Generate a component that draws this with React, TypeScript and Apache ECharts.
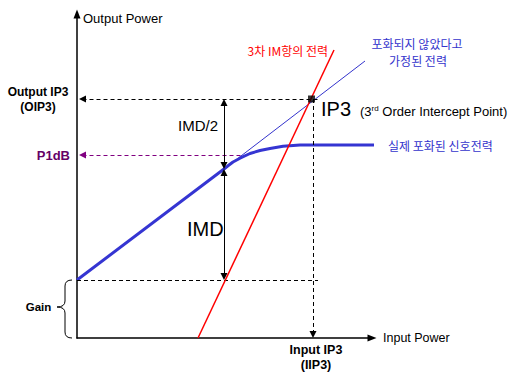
import React, { useEffect, useRef } from "react";
import * as echarts from "echarts";

// Actual (saturating) output power curve: input power vs output power (arbitrary dB-like units)
const actualInput = [0, 14.7, 15.1, 15.6, 16.3, 17.3, 18.3, 19.3, 20.6, 22.3, 30.3];
const actualOutput = [5.8, 16.9, 17.22, 17.6, 17.98, 18.45, 18.75, 18.95, 19.17, 19.3, 19.3];

// Ideal (non-saturated) linear extension
const linearInput = [14.7, 28.8];
const linearOutput = [16.9, 27.7];

// 3rd-order IM product power
const im3Input = [12.1, 25.7];
const im3Output = [0, 28.8];

// Key levels
const ip3Point = [23.45, 23.9]; // [IIP3, OIP3]
const iip3Line = 23.6;
const p1dBLevel = 18.3;
const p1dBInput = 16.6;
const gainLevel = 5.8;
const imdInput = 14.7;
const imdMidLevel = 16.9;
const dashEnd = 24.1;

const LATIN = "'Liberation Sans', Arial, sans-serif";
const KR = "'Noto Sans CJK KR', 'Liberation Sans', sans-serif";

export default function App() {
  const ref = useRef<HTMLDivElement>(null);
  useEffect(() => {
    if (!ref.current) return;
    echarts.graphic.registerShape(
      "brace",
      echarts.graphic.extendPath(
        "M15,0 Q8,0 8,6 L8,21 Q8,27 0,27 Q8,27 8,33 L8,52 Q8,58 15,58",
        {}
      )
    );
    const chart = echarts.init(ref.current, null, { renderer: "svg" });
    const zip = (a: number[], b: number[]) => a.map((v, i) => [v, b[i]]);
    const arrowOff = 0.35;
    const txt = (
      text: string,
      x: number,
      y: number,
      opts: any = {}
    ) => ({
      type: "text",
      x,
      y,
      style: {
        text,
        fill: opts.fill || "#000",
        font: `${opts.weight || "normal"} ${opts.size || 12}px ${opts.family || LATIN}`,
        align: opts.align || "left",
        verticalAlign: "middle",
        ...(opts.rich ? { rich: opts.rich } : {}),
      },
    });
    const option: any = {
      animation: false,
      grid: { left: 77, top: 14, width: 295, height: 324 },
      xAxis: {
        type: "value",
        min: 0,
        max: 29.5,
        axisLine: {
          onZero: false,
          symbol: ["none", "triangle"],
          symbolSize: [7, 9],
          lineStyle: { color: "#000", width: 1.5 },
        },
        axisTick: { show: false },
        axisLabel: { show: false },
        splitLine: { show: false },
      },
      yAxis: {
        type: "value",
        min: 0,
        max: 32.4,
        axisLine: {
          onZero: false,
          symbol: ["none", "triangle"],
          symbolSize: [7, 9],
          lineStyle: { color: "#000", width: 1.5 },
        },
        axisTick: { show: false },
        axisLabel: { show: false },
        splitLine: { show: false },
      },
      series: [
        {
          type: "line",
          name: "dashed-black",
          data: [],
          silent: true,
          markLine: {
            silent: true,
            animation: false,
            label: { show: false },
            lineStyle: { color: "#000", type: [4, 3], width: 1 },
            symbolSize: [7, 7],
            data: [
              [
                { coord: [0.2 + arrowOff, ip3Point[1]], symbol: "triangle" },
                { coord: [dashEnd, ip3Point[1]], symbol: "none" },
              ],
              [
                { coord: [iip3Line, ip3Point[1]], symbol: "none" },
                { coord: [iip3Line, arrowOff], symbol: "triangle" },
              ],
              [
                { coord: [0, gainLevel], symbol: "none" },
                { coord: [dashEnd, gainLevel], symbol: "none" },
              ],
            ],
          },
        },
        {
          type: "line",
          name: "dashed-purple",
          data: [],
          silent: true,
          markLine: {
            silent: true,
            animation: false,
            label: { show: false },
            lineStyle: { color: "#800080", type: [4, 3], width: 1 },
            symbolSize: [7, 7],
            data: [
              [
                { coord: [0.2 + arrowOff, p1dBLevel], symbol: "triangle" },
                { coord: [p1dBInput, p1dBLevel], symbol: "none" },
              ],
            ],
          },
        },
        {
          type: "line",
          name: "imd",
          data: [],
          silent: true,
          markLine: {
            silent: true,
            animation: false,
            label: { show: false },
            lineStyle: { color: "#000", type: "solid", width: 1 },
            symbol: ["triangle", "triangle"],
            symbolSize: [7, 7],
            data: [
              [
                { coord: [imdInput, ip3Point[1] - arrowOff] },
                { coord: [imdInput, imdMidLevel + arrowOff] },
              ],
              [
                { coord: [imdInput, imdMidLevel - arrowOff] },
                { coord: [imdInput, gainLevel + arrowOff] },
              ],
            ],
          },
        },
        {
          type: "line",
          name: "linear",
          data: zip(linearInput, linearOutput),
          symbol: "none",
          lineStyle: { color: "#3333cc", width: 1 },
          z: 3,
        },
        {
          type: "line",
          name: "actual",
          data: zip(actualInput, actualOutput),
          symbol: "none",
          clip: false,
          lineStyle: { color: "#3535d2", width: 3, join: "round" },
          z: 4,
        },
        {
          type: "line",
          name: "im3",
          data: zip(im3Input, im3Output),
          symbol: "none",
          lineStyle: { color: "#ff0000", width: 1.5 },
          z: 5,
        },
        {
          type: "scatter",
          name: "ip3",
          data: [ip3Point],
          symbol: "rect",
          symbolSize: 7,
          itemStyle: { color: "#000" },
          z: 6,
        },
      ],
      graphic: [
        txt("Output Power", 83, 18, { size: 13 }),
        txt("Input Power", 383, 338, { size: 12.5 }),
        txt("Output IP3", 38, 92, { size: 12, weight: "bold", align: "center" }),
        txt("(OIP3)", 38, 107, { size: 12, weight: "bold", align: "center" }),
        txt("P1dB", 70, 155, { size: 13, weight: "bold", align: "right", fill: "#660066" }),
        txt("Gain", 38.5, 307, { size: 11.5, weight: "bold", align: "center" }),
        txt("Input IP3", 316, 350, { size: 12.5, weight: "bold", align: "center" }),
        txt("(IIP3)", 316, 365, { size: 12.5, weight: "bold", align: "center" }),
        txt("IMD/2", 178, 125, { size: 15 }),
        txt("IMD", 187, 229, { size: 20 }),
        txt("IP3", 321, 109, { size: 20 }),
        txt("(3{sup|rd} Order Intercept Point)", 360, 111, {
          size: 13,
          rich: {
            sup: {
              fontSize: 8,
              fontFamily: LATIN,
              fill: "#000",
              padding: [0, 0, 6, 0],
            },
          },
        }),
        txt("3차 IM항의 전력", 328, 50, { size: 12, family: KR, align: "right", fill: "#ff0000" }),
        txt("포화되지 않았다고", 417, 43, { size: 12, family: KR, align: "center", fill: "#3333cc" }),
        txt("가정된 전력", 418, 60, { size: 12, family: KR, align: "center", fill: "#3333cc" }),
        txt("실제 포화된 신호전력", 388, 145, { size: 12, family: KR, fill: "#3333cc" }),
        {
          type: "brace",
          x: 57,
          y: 280,
          style: { fill: "none", stroke: "#000", lineWidth: 1 },
        },
      ],
    };
    chart.setOption(option);
    return () => chart.dispose();
  }, []);
  return <div ref={ref} style={{ width: 513, height: 376, position: "absolute", left: 0, top: 0, background: "#fff" }} />;
}
